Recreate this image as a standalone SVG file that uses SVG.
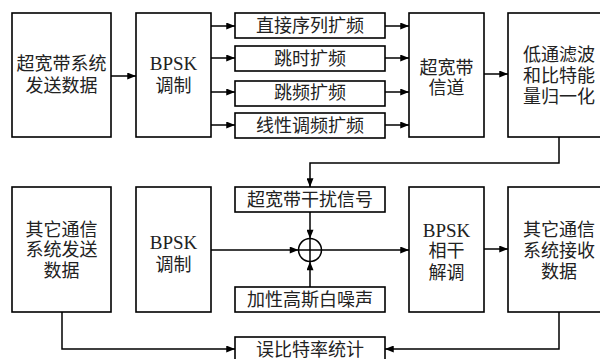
<svg xmlns="http://www.w3.org/2000/svg" width="600" height="359" viewBox="0 0 600 359">
<style>
.b{fill:#fff;stroke:#000;stroke-width:1.6}
.t{font-family:"Liberation Serif","Noto Sans CJK SC",serif;font-size:18px;text-anchor:middle;dominant-baseline:central;fill:#222}
.e{font-family:"Liberation Serif",serif;font-size:19px}
.c{fill:none;stroke:#000;stroke-width:1.5}
</style>
<defs>
<marker id="a" viewBox="0 0 10 8" refX="10" refY="4" markerWidth="10" markerHeight="7" markerUnits="userSpaceOnUse" orient="auto">
<path d="M0,0 L10,4 L0,8 Z" fill="#000"/>
</marker>
</defs>
<rect width="600" height="359" fill="#fff"/>
<g id="connectors" class="c" marker-end="url(#a)">
<line x1="111" y1="76" x2="136" y2="76"/>
<line x1="211" y1="26" x2="235" y2="26"/>
<line x1="211" y1="58" x2="235" y2="58"/>
<line x1="211" y1="92" x2="235" y2="92"/>
<line x1="211" y1="125" x2="235" y2="125"/>
<line x1="385" y1="26" x2="409" y2="26"/>
<line x1="385" y1="58" x2="409" y2="58"/>
<line x1="385" y1="92" x2="409" y2="92"/>
<line x1="385" y1="125" x2="409" y2="125"/>
<line x1="484" y1="74" x2="508" y2="74"/>
<polyline points="559,137 559,163 310,163 310,187"/>
<line x1="310" y1="212" x2="310" y2="238.5"/>
<line x1="310" y1="287" x2="310" y2="261.5"/>
<line x1="211" y1="250" x2="298.5" y2="250"/>
<line x1="321.5" y1="250" x2="409" y2="250"/>
<line x1="484" y1="249" x2="508" y2="249"/>
<polyline points="62,312 62,349 235,349"/>
<polyline points="559,312 559,349 385,349"/>
</g>
<g id="ub-data"><rect class="b" x="12" y="13" width="99" height="124"/><text class="t"><tspan x="61.5" y="64">超宽带系统</tspan><tspan x="61.5" y="86">发送数据</tspan></text></g>
<g id="bpsk-mod1"><rect class="b" x="136" y="13" width="75" height="124"/><text class="t"><tspan class="e" x="173.5" y="63">BPSK</tspan><tspan x="173.5" y="86">调制</tspan></text></g>
<g id="ds"><rect class="b" x="235" y="13" width="150" height="25"/><text class="t" x="310" y="26">直接序列扩频</text></g>
<g id="th"><rect class="b" x="235" y="46" width="150" height="25"/><text class="t" x="310" y="58.5">跳时扩频</text></g>
<g id="fh"><rect class="b" x="235" y="81" width="150" height="25"/><text class="t" x="310" y="93">跳频扩频</text></g>
<g id="chirp"><rect class="b" x="235" y="113" width="150" height="25"/><text class="t" x="310" y="125.5">线性调频扩频</text></g>
<g id="uwb-channel"><rect class="b" x="409" y="13" width="75" height="124"/><text class="t"><tspan x="446.5" y="68">超宽带</tspan><tspan x="446.5" y="88">信道</tspan></text></g>
<g id="lpf"><rect class="b" x="508" y="13" width="102" height="124"/><text class="t"><tspan x="559" y="55">低通滤波</tspan><tspan x="559" y="76">和比特能</tspan><tspan x="559" y="97">量归一化</tspan></text></g>
<g id="other-tx"><rect class="b" x="12" y="187" width="99" height="125"/><text class="t"><tspan x="61.5" y="230">其它通信</tspan><tspan x="61.5" y="250">系统发送</tspan><tspan x="61.5" y="271">数据</tspan></text></g>
<g id="bpsk-mod2"><rect class="b" x="136" y="187" width="75" height="125"/><text class="t"><tspan class="e" x="173.5" y="242">BPSK</tspan><tspan x="173.5" y="265">调制</tspan></text></g>
<g id="interference"><rect class="b" x="235" y="187" width="150" height="25"/><text class="t" x="310" y="199.5">超宽带干扰信号</text></g>
<g id="noise"><rect class="b" x="235" y="287" width="150" height="25"/><text class="t" x="310" y="299.5">加性高斯白噪声</text></g>
<g id="adder" class="c"><circle cx="310" cy="250" r="11.5" fill="#fff"/><line x1="298.5" y1="250" x2="321.5" y2="250"/><line x1="310" y1="238.5" x2="310" y2="261.5"/></g>
<g id="bpsk-demod"><rect class="b" x="409" y="187" width="75" height="125"/><text class="t"><tspan class="e" x="446.5" y="230">BPSK</tspan><tspan x="446.5" y="251">相干</tspan><tspan x="446.5" y="273">解调</tspan></text></g>
<g id="other-rx"><rect class="b" x="508" y="187" width="102" height="125"/><text class="t"><tspan x="559" y="230">其它通信</tspan><tspan x="559" y="251">系统接收</tspan><tspan x="559" y="272">数据</tspan></text></g>
<g id="ber"><rect class="b" x="235" y="337" width="150" height="30"/><text class="t" x="310" y="350">误比特率统计</text></g>
</svg>
